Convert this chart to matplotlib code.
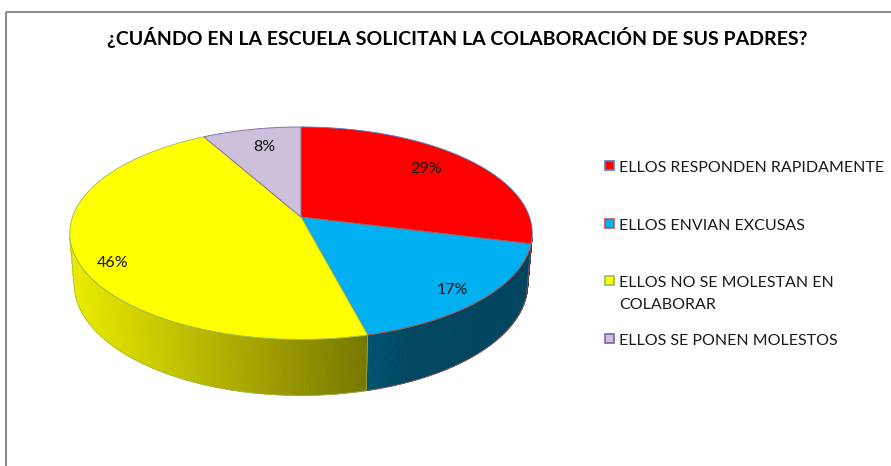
import numpy as np
import matplotlib
matplotlib.use("Agg")
import matplotlib.pyplot as plt
from matplotlib.patches import Polygon, Rectangle
from matplotlib.collections import PolyCollection
from matplotlib.colors import to_rgb

# ---------------- data ----------------
title = "¿CUÁNDO EN LA ESCUELA SOLICITAN LA COLABORACIÓN DE SUS PADRES?"
categories = ["ELLOS RESPONDEN RAPIDAMENTE",
              "ELLOS ENVIAN EXCUSAS",
              "ELLOS NO SE MOLESTAN EN\nCOLABORAR",
              "ELLOS SE PONEN MOLESTOS"]
values = [29, 17, 46, 8]
colors = ["#FF0000", "#00B0F0", "#FFFF00", "#CCC0DA"]
edge_colors = ["#4F81BD", "#C0504D", "#9BBB59", "#8064A2"]

# ---------------- layout / style ----------------
W, H = 891, 466
FONT = ["Lato", "DejaVu Sans"]
CX, CY = 301, 217          # pie centre on screen (px)
ELEV = np.radians(27)      # viewing elevation
DIST = 5.85                # camera distance (in pie radii)
FOCAL = 1337               # focal length (px)
THICK = 0.25               # pie thickness (in pie radii)
LABEL_R = [0.74, 0.86, 0.86, 0.75]
LABEL_NUDGE = [(0, -4), (-2, 3), (4, 11), (2, -2)]

fig = plt.figure(figsize=(W / 100, H / 100), dpi=100)
ax = fig.add_axes([0, 0, 1, 1])
ax.set_xlim(0, W)
ax.set_ylim(H, 0)
ax.axis("off")

ce, se = np.cos(ELEV), np.sin(ELEV)


def project(X, Y, Z):
    yc = Y * ce - Z * se
    zc = DIST - Z * ce - Y * se
    return CX + FOCAL * X / zc, CY - FOCAL * yc / zc


def rim(theta, Y, r=1.0):
    return project(r * np.cos(theta), Y, -r * np.sin(theta))


def shade(u):
    return np.clip(0.92 - 0.00154 * (u - 72), 0.40, 1.0)


fracs = np.array(values, dtype=float) / np.sum(values)
bounds = np.radians(90 - 360 * np.concatenate([[0], np.cumsum(fracs)]))

# visible part of the side wall
a = np.arcsin(1.0 / (DIST * ce))
vis_lo, vis_hi = -np.pi + a, -a

# walls
for i in range(len(values)):
    t0, t1 = bounds[i], bounds[i + 1]
    hi = min(t0, vis_hi)
    lo = max(t1, vis_lo)
    if lo >= hi:
        continue
    n = max(3, int(np.degrees(hi - lo) * 3))
    ths = np.linspace(hi, lo, n)
    ut, vt = rim(ths, 0.0)
    ub, vb = rim(ths, -THICK)
    quads, cols = [], []
    base = np.array(to_rgb(colors[i]))
    for k in range(n - 1):
        quads.append([(ut[k], vt[k]), (ut[k + 1], vt[k + 1]),
                      (ub[k + 1], vb[k + 1]), (ub[k], vb[k])])
        cols.append(base * shade(0.5 * (ut[k] + ut[k + 1])))
    pc = PolyCollection(quads, facecolors=cols, edgecolors=cols, linewidths=0.6)
    ax.add_collection(pc)
    outline = list(zip(ut, vt)) + list(zip(ub[::-1], vb[::-1]))
    ax.add_patch(Polygon(outline, closed=True, fc="none",
                         ec=edge_colors[i], lw=0.6, alpha=0.8))

# top faces
for i in range(len(values)):
    t0, t1 = bounds[i], bounds[i + 1]
    n = max(3, int(np.degrees(t0 - t1) * 2))
    ths = np.linspace(t0, t1, n)
    ut, vt = rim(ths, 0.0)
    cx0, cy0 = project(0.0, 0.0, 0.0)
    pts = [(cx0, cy0)] + list(zip(ut, vt))
    ax.add_patch(Polygon(pts, closed=True, fc=colors[i],
                         ec=edge_colors[i], lw=0.6))

# percentage labels
for i in range(len(values)):
    tm = 0.5 * (bounds[i] + bounds[i + 1])
    lu, lv = rim(tm, 0.0, LABEL_R[i])
    lu += LABEL_NUDGE[i][0]
    lv += LABEL_NUDGE[i][1]
    ax.text(lu, lv, f"{values[i]}%", ha="center", va="center",
            fontsize=11.5, family=FONT, color="#111111")

# title
ax.text(457, 44.5, title, ha="center", va="baseline", fontsize=14,
        fontweight="bold", family=FONT, color="black")

# legend
leg_baselines = [172, 230, 287, 345]
LINE_STEP = 22
for i, lab in enumerate(categories):
    yb = leg_baselines[i]
    ax.add_patch(Rectangle((605, yb - 11), 9, 9, fc=colors[i],
                           ec=edge_colors[i], lw=1.2))
    for j, line in enumerate(lab.split("\n")):
        ax.text(619, yb + j * LINE_STEP, line, ha="left", va="baseline",
                fontsize=11.5, family=FONT, color="#1a1a1a")

# chart border
ax.add_patch(Rectangle((6, 12), 1200, 1200, fc="none", ec="#8c8c8c", lw=1.5))

fig.savefig("out.png", dpi=100)
